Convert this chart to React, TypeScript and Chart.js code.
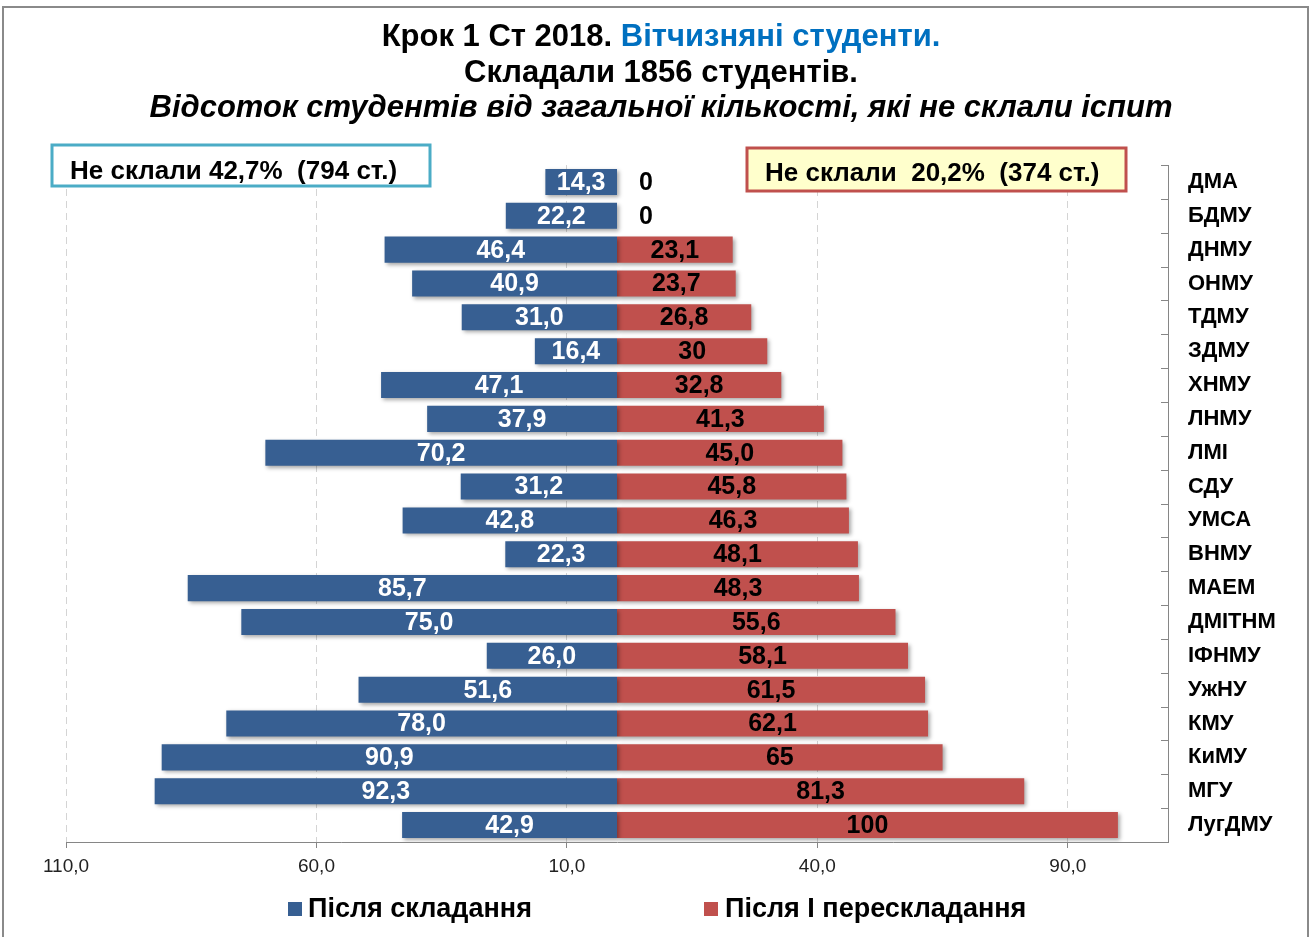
import { useEffect, useRef } from 'react';
import { Chart, registerables } from 'chart.js';

Chart.register(...registerables);

const categories = ['ДМА', 'БДМУ', 'ДНМУ', 'ОНМУ', 'ТДМУ', 'ЗДМУ', 'ХНМУ', 'ЛНМУ', 'ЛМІ', 'СДУ', 'УМСА', 'ВНМУ', 'МАЕМ', 'ДМІТНМ', 'ІФНМУ', 'УжНУ', 'КМУ', 'КиМУ', 'МГУ', 'ЛугДМУ'];
const afterExam = [14.3, 22.2, 46.4, 40.9, 31.0, 16.4, 47.1, 37.9, 70.2, 31.2, 42.8, 22.3, 85.7, 75.0, 26.0, 51.6, 78.0, 90.9, 92.3, 42.9];
const afterRetake = [0, 0, 23.1, 23.7, 26.8, 30, 32.8, 41.3, 45.0, 45.8, 46.3, 48.1, 48.3, 55.6, 58.1, 61.5, 62.1, 65, 81.3, 100];
const retakeDecimals = [0, 0, 1, 1, 1, 0, 1, 1, 1, 1, 1, 1, 1, 1, 1, 1, 1, 0, 1, 0];
const xTicks = [-110, -60, -10, 40, 90];
const seriesNames = ['Після складання', 'Після І перескладання'];
const titleLine1a = 'Крок 1 Ст 2018. ';
const titleLine1b = 'Вітчизняні студенти.';
const titleLine2 = 'Складали 1856 студентів.';
const titleLine3 = 'Відсоток студентів від загальної кількості, які не склали іспит';
const noteLeft = 'Не склали 42,7%  (794 ст.)';
const noteRight = 'Не склали  20,2%  (374 ст.)';

const BLUE = '#375f92';
const RED = '#c0504d';
const FONT = '"Liberation Sans", Arial, sans-serif';

const fmt = (v: number, d: number) => v.toFixed(d).replace('.', ',');

const decorPlugin = {
  id: 'decor',
  beforeDatasetsDraw(chart: any) {
    const ctx = chart.ctx;
    ctx.save();
    ctx.shadowColor = 'rgba(0,0,0,0.35)';
    ctx.shadowBlur = 4;
    ctx.shadowOffsetX = 2;
    ctx.shadowOffsetY = 2;
  },
  afterDatasetsDraw(chart: any) {
    const ctx = chart.ctx;
    ctx.restore();
    ctx.save();
    ctx.textAlign = 'center';
    ctx.textBaseline = 'middle';
    ctx.font = `bold 25px ${FONT}`;
    const zeroX = chart.scales.x.getPixelForValue(0);
    chart.data.datasets.forEach((ds: any, di: number) => {
      const meta = chart.getDatasetMeta(di);
      meta.data.forEach((el: any, i: number) => {
        let text: string;
        let x: number;
        if (di === 0) {
          text = fmt(afterExam[i], 1);
          ctx.fillStyle = '#ffffff';
          x = (el.x + el.base) / 2;
        } else {
          const v = afterRetake[i];
          text = fmt(v, retakeDecimals[i]);
          ctx.fillStyle = '#000000';
          x = v === 0 ? zeroX + 29 : (el.x + el.base) / 2;
        }
        ctx.fillText(text, x, el.y + 1);
      });
    });
    // inward tick marks on right category axis
    const ys = chart.scales.y;
    const area = chart.chartArea;
    ctx.strokeStyle = '#868686';
    ctx.lineWidth = 1;
    const n = categories.length;
    for (let i = 0; i <= n; i++) {
      const y = Math.round(area.top + (i * (area.bottom - area.top)) / n) + 0.5;
      ctx.beginPath();
      ctx.moveTo(ys.left - 7, y);
      ctx.lineTo(ys.left, y);
      ctx.stroke();
    }
    ctx.restore();
  },
  afterDraw(chart: any) {
    const ctx = chart.ctx;
    ctx.save();
    // outer border
    ctx.strokeStyle = '#8a8a8a';
    ctx.lineWidth = 2;
    ctx.strokeRect(3, 7, 1305, 940);

    // title
    const cx = 661;
    ctx.textBaseline = 'alphabetic';
    ctx.textAlign = 'left';
    ctx.font = `bold 31px ${FONT}`;
    const wa = ctx.measureText(titleLine1a).width;
    const wb = ctx.measureText(titleLine1b).width;
    const sx = cx - (wa + wb) / 2;
    ctx.fillStyle = '#000';
    ctx.fillText(titleLine1a, sx, 46);
    ctx.fillStyle = '#0070c0';
    ctx.fillText(titleLine1b, sx + wa, 46);
    ctx.fillStyle = '#000';
    ctx.textAlign = 'center';
    ctx.fillText(titleLine2, cx, 82);
    ctx.font = `italic bold 31px ${FONT}`;
    ctx.fillText(titleLine3, cx, 117);

    // note boxes
    ctx.lineWidth = 3;
    ctx.fillStyle = '#ffffff';
    ctx.strokeStyle = '#4bacc6';
    ctx.fillRect(52, 145, 378, 41);
    ctx.strokeRect(52, 145, 378, 41);
    ctx.fillStyle = '#ffffcc';
    ctx.strokeStyle = RED;
    ctx.fillRect(747, 148, 379, 43);
    ctx.strokeRect(747, 148, 379, 43);
    ctx.fillStyle = '#000';
    ctx.textAlign = 'left';
    ctx.textBaseline = 'middle';
    ctx.font = `bold 26px ${FONT}`;
    ctx.fillText(noteLeft, 70, 172);
    ctx.fillText(noteRight, 765, 174);

    // legend
    ctx.font = `bold 27px ${FONT}`;
    ctx.fillStyle = BLUE;
    ctx.fillRect(288, 902, 14, 14);
    ctx.fillStyle = RED;
    ctx.fillRect(704, 902, 14, 14);
    ctx.fillStyle = '#000';
    ctx.fillText(seriesNames[0], 308, 910);
    ctx.fillText(seriesNames[1], 725, 910);
    ctx.restore();
  },
};

export default function App() {
  const ref = useRef<HTMLCanvasElement>(null);
  useEffect(() => {
    const canvas = ref.current!;
    const chart = new Chart(canvas, {
      type: 'bar',
      data: {
        labels: categories,
        datasets: [
          {
            label: seriesNames[0],
            data: afterExam.map((v) => -v),
            backgroundColor: BLUE,
            barPercentage: 0.77,
            categoryPercentage: 1,
          },
          {
            label: seriesNames[1],
            data: afterRetake,
            backgroundColor: RED,
            barPercentage: 0.77,
            categoryPercentage: 1,
          },
        ],
      },
      options: {
        indexAxis: 'y',
        animation: false,
        responsive: false,
        devicePixelRatio: 1,
        layout: { padding: { top: 165, left: 66, right: 0, bottom: 45 } },
        plugins: {
          legend: { display: false },
          title: { display: false },
          tooltip: { enabled: false },
        },
        scales: {
          x: {
            type: 'linear',
            stacked: true,
            min: -110,
            max: 110,
            afterBuildTicks: (scale: any) => {
              scale.ticks = xTicks.map((v) => ({ value: v }));
            },
            afterFit: (scale: any) => {
              scale.height = 50;
            },
            ticks: {
              callback: (v: any) => fmt(Math.abs(Number(v)), 1),
              font: { family: FONT, size: 19 },
              color: '#222222',
              padding: 7,
              maxRotation: 0,
              autoSkip: false,
            },
            grid: {
              color: '#d4d4d4',
              lineWidth: 1,
              drawTicks: true,
              tickLength: 6,
              tickColor: '#868686',
            },
            border: { display: true, color: '#868686', width: 1, dash: [7, 5] },
          },
          y: {
            type: 'category',
            position: 'right',
            stacked: true,
            afterFit: (scale: any) => {
              scale.width = 146;
            },
            ticks: {
              font: { family: FONT, size: 22, weight: 'bold' },
              color: '#000000',
              padding: 20,
              autoSkip: false,
            },
            grid: { display: true, drawOnChartArea: false, drawTicks: false },
            border: { display: true, color: '#868686', width: 1 },
          },
        },
      },
      plugins: [decorPlugin],
    });
    return () => chart.destroy();
  }, []);
  return (
    <div style={{ position: 'fixed', left: 0, top: 0, width: 1314, height: 937, background: '#ffffff' }}>
      <canvas ref={ref} width={1314} height={937} style={{ display: 'block' }} />
    </div>
  );
}
